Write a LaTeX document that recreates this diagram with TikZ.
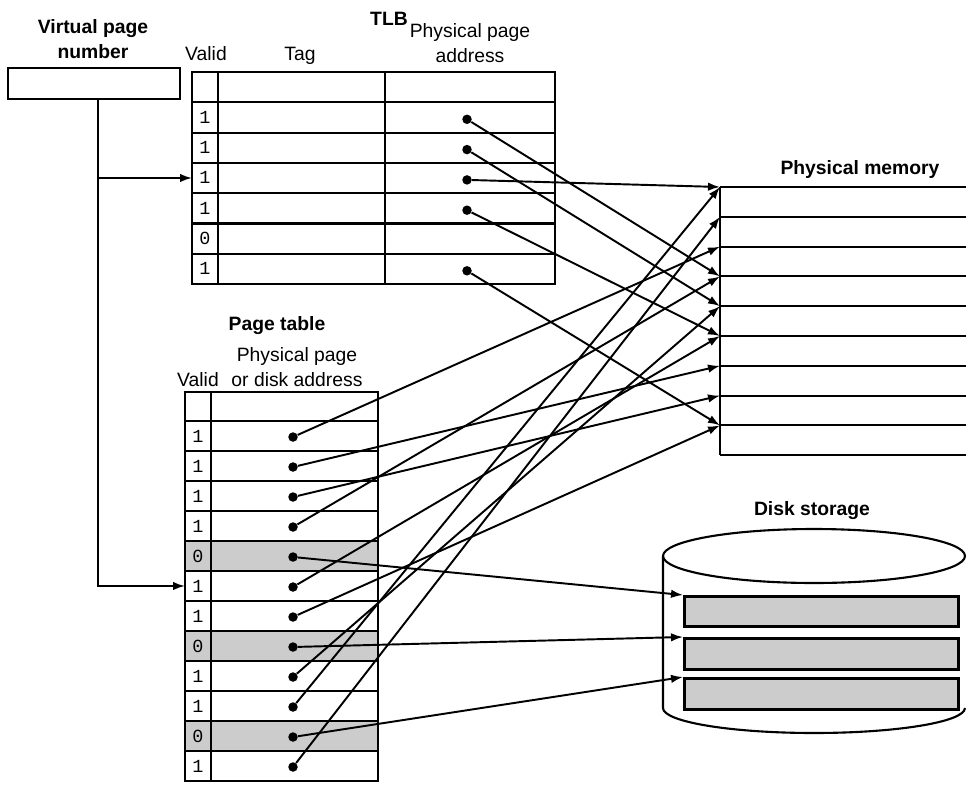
\documentclass[tikz,border=0pt]{standalone}
\usepackage{fontspec}
\setmainfont{Liberation Sans}
\newfontfamily\monodigits{Liberation Mono}
\usetikzlibrary{arrows.meta}

\begin{document}
\begin{tikzpicture}[
    x=0.02cm, y=-0.02cm,
    title/.style={font=\fontsize{11}{14}\selectfont\bfseries, align=center},
    colhead/.style={font=\fontsize{11}{14}\selectfont, align=center},
    cell/.style={draw, line width=1.2pt},
    frame/.style={draw, line width=1.2pt, inner sep=0pt, outer sep=0pt, anchor=north west},
    bit/.style={font=\monodigits\fontsize{10.5}{12}\selectfont, inner sep=0pt},
    ptrdot/.style={circle, fill, inner sep=0pt, minimum size=0.19cm},
    ptr/.style={-{Latex[length=2.4mm, width=1.7mm]}, line width=1.1pt},
    block/.style={draw, line width=1.8pt, fill=gray!40, inner sep=0pt, anchor=north west, minimum width=5.48cm}
]
\useasboundingbox (0,0) rectangle (966,784);

% Labels
\node[title] (vpnlabel) at (93,39) {Virtual page\\number};
\node[title] (tlblabel) at (389,19) {TLB};
\node[colhead] (tlbvalid) at (206,54) {Valid};
\node[colhead] (tlbtag) at (300,56) {Tag};
\node[colhead] (tlbaddr) at (470,43) {Physical page\\address};
\node[title] (ptlabel) at (277,326) {Page table};
\node[colhead] (ptvalid) at (198,380) {Valid};
\node[colhead] (ptaddr) at (297,367) {Physical page\\or disk address};
\node[title] (memlabel) at (860,170) {Physical memory};
\node[title] (disklabel) at (812,511) {Disk storage};

% Virtual page number
\node[frame, minimum width=3.44cm, minimum height=0.62cm] (vpn) at (8,68) {};

% TLB
\node[frame, minimum width=7.26cm, minimum height=4.24cm] (tlb) at (192,72) {};
\foreach \r in {1,...,6} \draw[cell] (192,72+30.3*\r) -- (555,72+30.3*\r);
\draw[cell] (218,72) -- (218,284);
\draw[cell] (385,72) -- (385,284);
\foreach \v [count=\r] in {1,1,1,1,0,1} \node[bit] (tv\r) at (205,87+30.3*\r) {\v};
\foreach \r in {1,2,3,4,6} \node[ptrdot] (t\r) at (467,89+30.3*\r) {};

% Page table
\foreach \r in {5,8,11} \fill[gray!40] (185,391+30*\r) rectangle (378,421+30*\r);
\node[frame, minimum width=3.86cm, minimum height=7.78cm] (ptab) at (185,392) {};
\foreach \r in {0,...,11} \draw[cell] (185,421+30*\r) -- (378,421+30*\r);
\draw[cell] (211,392) -- (211,781);
\foreach \v [count=\r] in {1,1,1,1,0,1,1,0,1,1,0,1} \node[bit] (pv\r) at (198,406+30*\r) {\v};
\foreach \r in {1,...,12} \node[ptrdot] (p\r) at (293,407+30*\r) {};

% Physical memory
\foreach \k in {0,...,9} \draw[cell] (720,187+29.8*\k) -- (966,187+29.8*\k);
\draw[cell] (720,187) -- (720,455.2);
\foreach \k in {0,...,8} \coordinate (m\k) at (720,187+29.8*\k);

% Disk storage
\draw[cell] (814,556) ellipse [x radius=3.02cm, y radius=0.54cm];
\draw[cell] (663,556) -- (663,708) arc[start angle=180, end angle=360, x radius=3.02cm, y radius=0.5cm];
\node[block, minimum height=0.6cm] (d1) at (683,595) {};
\node[block, minimum height=0.62cm] (d2) at (683,637) {};
\node[block, minimum height=0.62cm] (d3) at (683,677) {};

% Virtual page number into TLB and page table
\coordinate (vfork) at (98,178);
\coordinate (vbend) at (98,586);
\draw[ptr] (vpn.south -| vfork) -- (vbend) -- (ptab.west |- vbend);
\draw[ptr] (vfork) -- (tlb.west |- vfork);

% TLB entries
\draw[ptr] (t1) -- (m3);
\draw[ptr] (t2) -- (m4);
\draw[ptr] (t3) -- (m0);
\draw[ptr] (t4) -- (m5);
\draw[ptr] (t6) -- (m8);

% Page table entries
\draw[ptr] (p1) -- (m2);
\draw[ptr] (p2) -- (m6);
\draw[ptr] (p3) -- (m7);
\draw[ptr] (p4) -- (m3);
\draw[ptr] (p6) -- (m5);
\draw[ptr] (p7) -- (m8);
\draw[ptr] (p9) -- (m4);
\draw[ptr] (p10) -- (m0);
\draw[ptr] (p12) -- (m1);
\draw[ptr] (p5) -- (d1.north west);
\draw[ptr] (p8) -- (d2.north west);
\draw[ptr] (p11) -- (d3.north west);

\end{tikzpicture}
\end{document}
